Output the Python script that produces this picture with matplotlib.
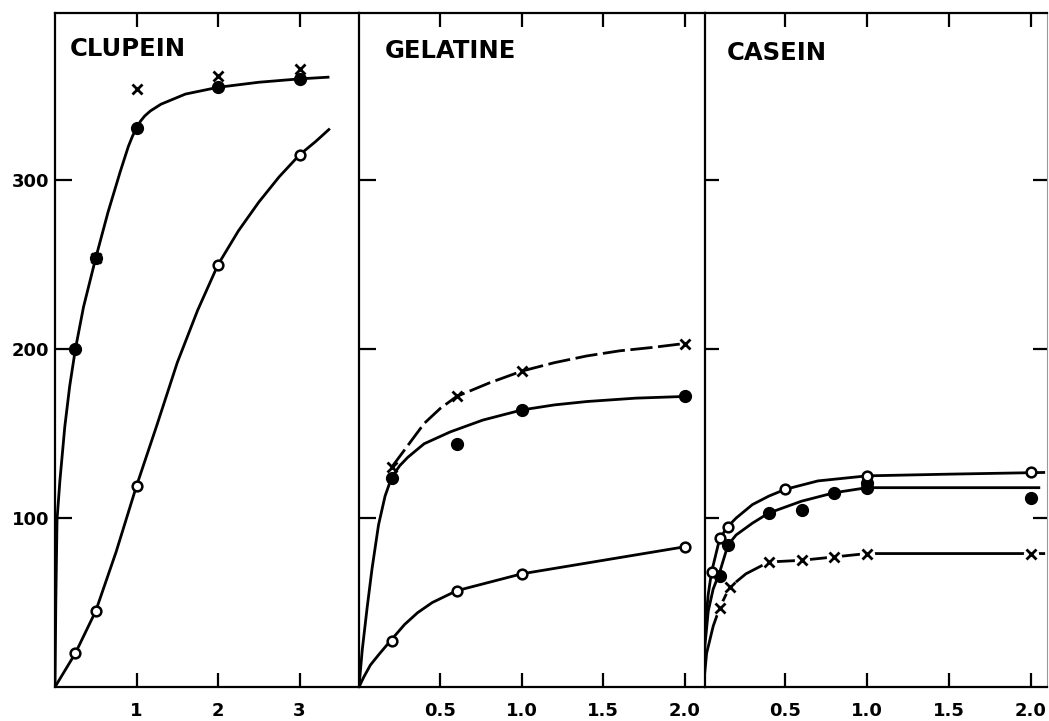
# -*- coding: utf-8 -*-

##  plot.py
#   Clupein / Gelatine / Casein - tres paineis lado a lado.
#

import numpy as np
import matplotlib as mpl
mpl.use('Agg')
import matplotlib.pyplot as plt

## DADOS
#

# Clupein - pontos
clu_x = [0.25, 0.5, 1.0, 2.0, 3.0]
clu_cheio = [200, 254, 331, 355, 360]
clu_aberto = [20, 45, 119, 250, 315]
clu_xis_x = [0.5, 1.0, 2.0, 3.0]
clu_xis = [254, 354, 362, 366]

# Clupein - curvas desenhadas
clu_c1_x = [0, 0.01, 0.025, 0.06, 0.12, 0.18, 0.25, 0.35, 0.5, 0.65, 0.8, 0.9,
            0.95, 1.0, 1.05, 1.1, 1.17, 1.3, 1.45, 1.6, 1.8, 2.0, 2.5, 3.0, 3.35]
clu_c1_y = [0, 50, 99, 122, 154, 178, 200, 225, 254, 281, 305, 320,
            326, 331, 335, 338, 341, 345, 348, 351, 353, 355, 358, 360, 361]
clu_c2_x = [0, 0.25, 0.5, 0.75, 1.0, 1.25, 1.5, 1.75, 2.0, 2.25, 2.5, 2.75,
            3.0, 3.2, 3.36]
clu_c2_y = [0, 20, 45, 80, 119, 155, 192, 223, 250, 270, 287, 302,
            315, 323, 330]

# Gelatine - pontos
gel_x = [0.2, 0.6, 1.0, 2.0]
gel_xis = [130, 172, 187, 203]
gel_cheio = [124, 144, 164, 172]
gel_aberto = [27, 57, 67, 83]

# Gelatine - curvas
gel_c1_x = [0, 0.02, 0.05, 0.08, 0.12, 0.16, 0.2, 0.25, 0.3, 0.4, 0.56, 0.76,
            1.0, 1.2, 1.4, 1.7, 2.0]
gel_c1_y = [0, 22, 47, 70, 96, 113, 124, 131, 136, 144, 151, 158,
            164, 167, 169, 171, 172]
gel_c2_x = [0.2, 0.3, 0.4, 0.5, 0.6, 0.8, 1.0, 1.2, 1.4, 1.6, 1.8, 1.97]
gel_c2_y = [130, 143, 156, 165, 172, 180, 187, 192, 196, 199, 201, 203]
gel_c3_x = [0, 0.03, 0.07, 0.12, 0.19, 0.28, 0.36, 0.45, 0.6, 0.8, 1.0, 1.5, 2.0]
gel_c3_y = [0, 6, 13, 19, 27, 37, 44, 50, 57, 62, 67, 75, 83]

# Casein - pontos
cas_ab_x = [0.05, 0.1, 0.15, 0.5, 1.0, 2.0]
cas_aberto = [68, 88, 95, 117, 125, 127]
cas_ch_x = [0.1, 0.15, 0.4, 0.6, 0.8, 1.0, 1.0, 2.0]
cas_cheio = [66, 84, 103, 105, 115, 118, 121, 112]
cas_xis_x = [0.1, 0.16, 0.4, 0.6, 0.8, 1.0, 2.0]
cas_xis = [47, 59, 74, 75, 77, 79, 79]

# Casein - curvas
cas_c1_x = [0, 0.01, 0.03, 0.05, 0.1, 0.15, 0.2, 0.3, 0.4, 0.5, 0.7, 1.0, 1.5, 2.08]
cas_c1_y = [0, 35, 55, 68, 88, 95, 100, 108, 113, 117, 122, 125, 126, 127]
cas_c2_x = [0, 0.01, 0.03, 0.06, 0.1, 0.15, 0.2, 0.3, 0.4, 0.6, 0.8, 1.0, 1.5, 2.05]
cas_c2_y = [0, 25, 45, 58, 68, 84, 90, 97, 103, 110, 115, 118, 118, 118]
cas_c3_x = [0, 0.02, 0.06, 0.1, 0.16, 0.26, 0.4, 0.6, 0.8, 1.0, 1.5, 2.08]
cas_c3_y = [0, 20, 36, 47, 59, 67, 74, 75, 77, 79, 79, 79]

titulos = ['CLUPEIN', 'GELATINE', 'CASEIN']

## ESTILO
#
LW = 2.0
TRACO = (8, 2)
plt.rcParams['font.family'] = ['DejaVu Sans']
plt.rcParams['font.weight'] = 'bold'


def cheio(ax, x, y):
    ax.plot(x, y, 'o', ms=8.5, color='black', zorder=5)


def aberto(ax, x, y):
    ax.plot(x, y, 'o', ms=7, mfc='white', mec='black', mew=1.8, zorder=6)


def xis(ax, x, y, halo=False):
    if halo:    # abre um espaco branco na linha em volta do marcador
        ax.plot(x, y, 'o', ms=11, mfc='white', mec='none', zorder=4)
    ax.plot(x, y, 'x', ms=7.5, mec='black', mew=2.0, zorder=6)


def curva(ax, x, y, tracejada=False):
    if tracejada:
        ax.plot(x, y, color='black', lw=LW, dashes=TRACO, zorder=3)
    else:
        ax.plot(x, y, color='black', lw=LW, zorder=3)


def configura(ax, xlim, xticks, xlabels, titulo, tx, ty):
    ax.set_xlim(*xlim)
    ax.set_ylim(0, 399)
    ax.set_xticks(xticks)
    ax.set_xticklabels(xlabels)
    ax.set_yticks([100, 200, 300])
    for s in ax.spines.values():
        s.set_linewidth(1.6)
    ax.tick_params(axis='x', which='both', direction='in', top=True, bottom=True,
                   length=10, width=1.6, pad=11, labelsize=13)
    ax.text(tx, ty, titulo, transform=ax.transAxes, fontsize=17.5,
            fontweight='bold', va='baseline', ha='left')


W, H = 1049, 721
fig = plt.figure(figsize=(W / 100, H / 100), dpi=100)
bot, top = 1 - 687 / H, 1 - 13 / H

ax1 = fig.add_axes([55 / W, bot, (359 - 55) / W, top - bot])
ax2 = fig.add_axes([359 / W, bot, (705 - 359) / W, top - bot])
ax3 = fig.add_axes([705 / W, bot, (1047 - 705) / W, top - bot])

# Clupein
curva(ax1, clu_c1_x, clu_c1_y)
curva(ax1, clu_c2_x, clu_c2_y)
cheio(ax1, clu_x, clu_cheio)
aberto(ax1, clu_x, clu_aberto)
xis(ax1, clu_xis_x, clu_xis)
configura(ax1, (0, 3.73), [1, 2, 3], ['1', '2', '3'], titulos[0], 0.05, 0.936)
ax1.tick_params(axis='y', direction='in', left=True, right=False, length=12,
                width=1.6, pad=4, labelsize=13)
ax1.set_yticklabels(['100', '200', '300'])
ax1.spines['right'].set_visible(False)

# Gelatine
curva(ax2, gel_c1_x, gel_c1_y)
curva(ax2, gel_c2_x, gel_c2_y, tracejada=True)
curva(ax2, gel_c3_x, gel_c3_y)
cheio(ax2, gel_x, gel_cheio)
aberto(ax2, gel_x, gel_aberto)
xis(ax2, gel_x, gel_xis)
configura(ax2, (0, 2.125), [0.5, 1.0, 1.5, 2.0], ['0.5', '1.0', '1.5', '2.0'],
          titulos[1], 0.075, 0.933)
ax2.tick_params(axis='y', direction='in', left=True, right=False, length=12,
                width=1.6, labelleft=False)
ax2.spines['right'].set_visible(False)

# Casein
curva(ax3, cas_c1_x, cas_c1_y)
curva(ax3, cas_c2_x, cas_c2_y)
curva(ax3, cas_c3_x, cas_c3_y)
cheio(ax3, cas_ch_x, cas_cheio)
aberto(ax3, cas_ab_x, cas_aberto)
xis(ax3, cas_xis_x, cas_xis, halo=True)
configura(ax3, (0.01, 2.10), [0.5, 1.0, 1.5, 2.0], ['0.5', '1.0', '1.5', '2.0'],
          titulos[2], 0.065, 0.930)
ax3.tick_params(axis='y', direction='in', left=True, right=True, length=10,
                width=1.6, labelleft=False)
ax3.spines['right'].set_linewidth(0.8)
ax3.spines['right'].set_color('#999999')

fig.savefig('out.png', dpi=100)
